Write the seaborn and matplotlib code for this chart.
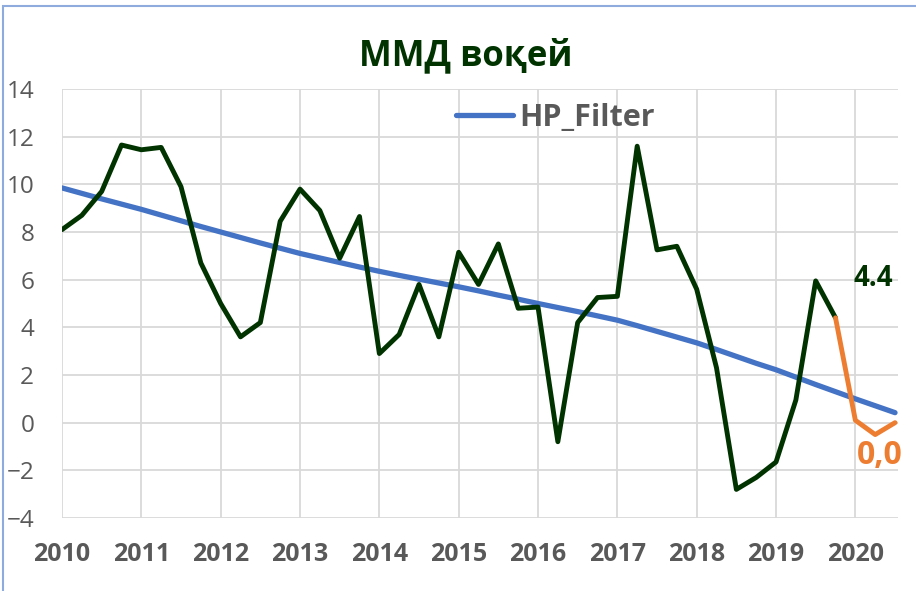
import numpy as np
import pandas as pd
import matplotlib
matplotlib.use("Agg")
import matplotlib.pyplot as plt
import seaborn as sns
from matplotlib.patches import Rectangle

# Quarterly data, 2010Q1 .. 2020Q3
years = ['2010', '2011', '2012', '2013', '2014', '2015', '2016', '2017', '2018', '2019', '2020']

actual = [8.1, 8.7, 9.7, 11.65, 11.45, 11.55, 9.9, 6.7, 5.0, 3.6,
          4.2, 8.45, 9.8, 8.9, 6.9, 8.65, 2.9, 3.7, 5.8, 3.6,
          7.15, 5.8, 7.5, 4.8, 4.85, -0.8, 4.2, 5.25, 5.3, 11.6,
          7.25, 7.4, 5.6, 2.3, -2.8, -2.3, -1.65, 0.95, 5.95, 4.4]

forecast = [4.4, 0.1, -0.5, 0.0]

hp_filter = [9.85, 9.62, 9.39, 9.17, 8.95, 8.71, 8.47, 8.23,
             8.00, 7.77, 7.54, 7.32, 7.10, 6.91, 6.72, 6.53,
             6.35, 6.18, 6.02, 5.86, 5.70, 5.53, 5.35, 5.18,
             5.00, 4.83, 4.66, 4.48, 4.30, 4.07, 3.83, 3.59,
             3.35, 3.07, 2.78, 2.49, 2.22, 1.91, 1.60, 1.30,
             1.00, 0.71, 0.42]

df_act = pd.DataFrame({'q': np.arange(len(actual)), 'v': actual})
df_fc = pd.DataFrame({'q': np.arange(len(actual) - 1, len(actual) - 1 + len(forecast)), 'v': forecast})
df_hp = pd.DataFrame({'q': np.arange(len(hp_filter)), 'v': hp_filter})

sns.set_style("white")
plt.rcParams['font.family'] = ['Open Sans', 'DejaVu Sans']

green = '#003300'
blue = '#4472C4'
orange = '#ED7D31'
gray = '#595959'

fig = plt.figure(figsize=(9.16, 5.91), dpi=100)
ax = fig.add_axes([62 / 916, 73 / 591, 836 / 916, 429 / 591])

sns.lineplot(data=df_hp, x='q', y='v', ax=ax, color=blue, lw=3.8, label='HP_Filter')
sns.lineplot(data=df_act, x='q', y='v', ax=ax, color=green, lw=3.5, label='_nolegend_')
sns.lineplot(data=df_fc, x='q', y='v', ax=ax, color=orange, lw=3.5, label='_nolegend_')

ax.set_xlim(0, 42.15)
ax.set_ylim(-4, 14)
ax.set_yticks(np.arange(-4, 15, 2))
ax.set_xticks(np.arange(0, 4 * len(years), 4))
ax.set_xticklabels(years, fontweight='bold')
ax.tick_params(axis='x', length=0, pad=17, labelsize=18, labelcolor=gray)
ax.tick_params(axis='y', length=0, pad=20, labelsize=17.5, labelcolor=gray)
ax.set_xlabel('')
ax.set_ylabel('')
ax.grid(True, color='#d9d9d9', lw=1.3)
ax.set_axisbelow(True)
for s in ax.spines.values():
    s.set_visible(False)

ax.legend(loc='center', bbox_to_anchor=(0.590, 0.932), frameon=False,
          handlelength=1.85, handletextpad=0.2,
          prop={'weight': 'bold', 'size': 22}, labelcolor=gray)

fig.text(0.508, 0.905, 'ММД воқей', ha='center', va='center',
         fontsize=25, fontweight='bold', color=green)

ax.annotate(f'{actual[-1]:.1f}', xy=(len(actual) - 1, actual[-1]), xytext=(27, 28),
            textcoords='offset points', ha='center', va='center',
            fontsize=20, fontweight='bold', color=green)
ax.annotate(f'{forecast[-1]:.1f}'.replace('.', ','), xy=(len(hp_filter) - 1, forecast[-1]),
            xytext=(-11, -24), textcoords='offset points', ha='center', va='center',
            fontsize=23, fontweight='bold', color=orange, annotation_clip=False)

fig.patches.append(Rectangle((3 / 916, -0.1), 1.2, 1.1 - 6 / 591, transform=fig.transFigure,
                             fill=False, edgecolor='#8FAADC', lw=1.5))

plt.savefig('out.png', dpi=100)
